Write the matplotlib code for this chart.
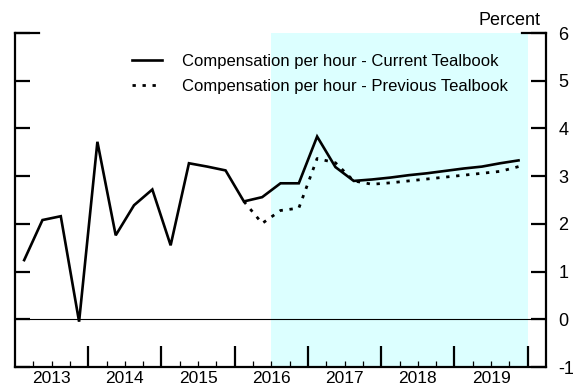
import matplotlib
matplotlib.use("Agg")
import matplotlib.pyplot as plt
import matplotlib.transforms as mtransforms
import numpy as np

plt.rcParams['font.family'] = ['Liberation Sans', 'DejaVu Sans']

# Quarterly compensation per hour growth (percent, annual rate), 2013Q1-2019Q4
quarters = [f"{y}Q{q}" for y in range(2013, 2020) for q in range(1, 5)]
current = [1.24, 2.08, 2.16, -0.05,
           3.72, 1.76, 2.39, 2.72,
           1.55, 3.27, 3.20, 3.12,
           2.47, 2.56, 2.85, 2.85,
           3.83, 3.19, 2.90, 2.93,
           2.97, 3.02, 3.06, 3.11,
           3.16, 3.20, 3.27, 3.33]
# Previous Tealbook path from 2016Q1 onward
previous_start = "2016Q1"
previous = [2.47, 2.01, 2.28, 2.33,
            3.37, 3.28, 2.90, 2.83,
            2.86, 2.90, 2.94, 2.98,
            3.02, 3.06, 3.10, 3.20]
years = [2013, 2014, 2015, 2016, 2017, 2018, 2019]
yticks = [-1, 0, 1, 2, 3, 4, 5, 6]
forecast_start = 2016.5
forecast_end = 2020.0


def qpos(label):
    y, q = label.split("Q")
    return int(y) + (int(q) - 0.5) / 4.0


x_cur = [qpos(q) for q in quarters]
i0 = quarters.index(previous_start)
x_prev = x_cur[i0:i0 + len(previous)]

fig = plt.figure(figsize=(5.73, 3.90), dpi=100)
ax = fig.add_axes([15 / 573, 23 / 390, 531 / 573, 334 / 390])

ax.axvspan(forecast_start, forecast_end, color='#dcffff', lw=0, zorder=0)
ax.axhline(0, color='black', lw=0.8, zorder=1)

ax.plot(x_cur, current, color='black', lw=1.9, solid_joinstyle='miter',
        label='Compensation per hour - Current Tealbook', zorder=3)
ax.plot(x_prev, previous, color='black', lw=2.0, dashes=(1.2, 2.4),
        dash_capstyle='butt',
        label='Compensation per hour - Previous Tealbook', zorder=2)

ax.set_xlim(2013.0, 2020.25)
ax.set_ylim(-1, 6)

# Spines
ax.spines['top'].set_visible(False)
for s in ('left', 'right', 'bottom'):
    ax.spines[s].set_linewidth(1.6)

# Y ticks: inward on both sides, labels on the right
ax.set_yticks(yticks)
ax.set_yticklabels([str(v) for v in yticks])
ax.tick_params(axis='y', which='major', left=True, right=True,
               labelleft=False, labelright=True, direction='in',
               length=11, width=1.6, labelsize=13, pad=9)
# longer marks at the top of both vertical axes
ax.axhline(6, xmin=0, xmax=24 / 531, color='black', lw=1.6, clip_on=False)
ax.axhline(6, xmin=1 - 24 / 531, xmax=1, color='black', lw=1.6, clip_on=False)

# X ticks: tall marks at year boundaries, short marks at quarters
ax.set_xticks([y + 1 for y in years])
ax.set_xticklabels([])
ax.set_xticks([y + q / 4 for y in years for q in (1, 2, 3)], minor=True)
ax.tick_params(axis='x', which='major', direction='in', length=15, width=1.6,
               bottom=True, top=False)
ax.tick_params(axis='x', which='minor', direction='in', length=4, width=0.9,
               bottom=True, top=False)

trans = mtransforms.blended_transform_factory(ax.transData, ax.transAxes)
for y in years:
    ax.text(y + 0.5, -0.012, str(y), transform=trans, ha='center', va='top',
            fontsize=12.5)

ax.text(0.99, 1.012, 'Percent', transform=ax.transAxes, ha='right',
        va='bottom', fontsize=13)

leg = ax.legend(loc='upper left', bbox_to_anchor=(0.207, 0.958), frameon=False,
                fontsize=12, handlelength=1.85, handletextpad=1.2,
                labelspacing=0.62, borderaxespad=0)

fig.savefig('out.png', dpi=100)
